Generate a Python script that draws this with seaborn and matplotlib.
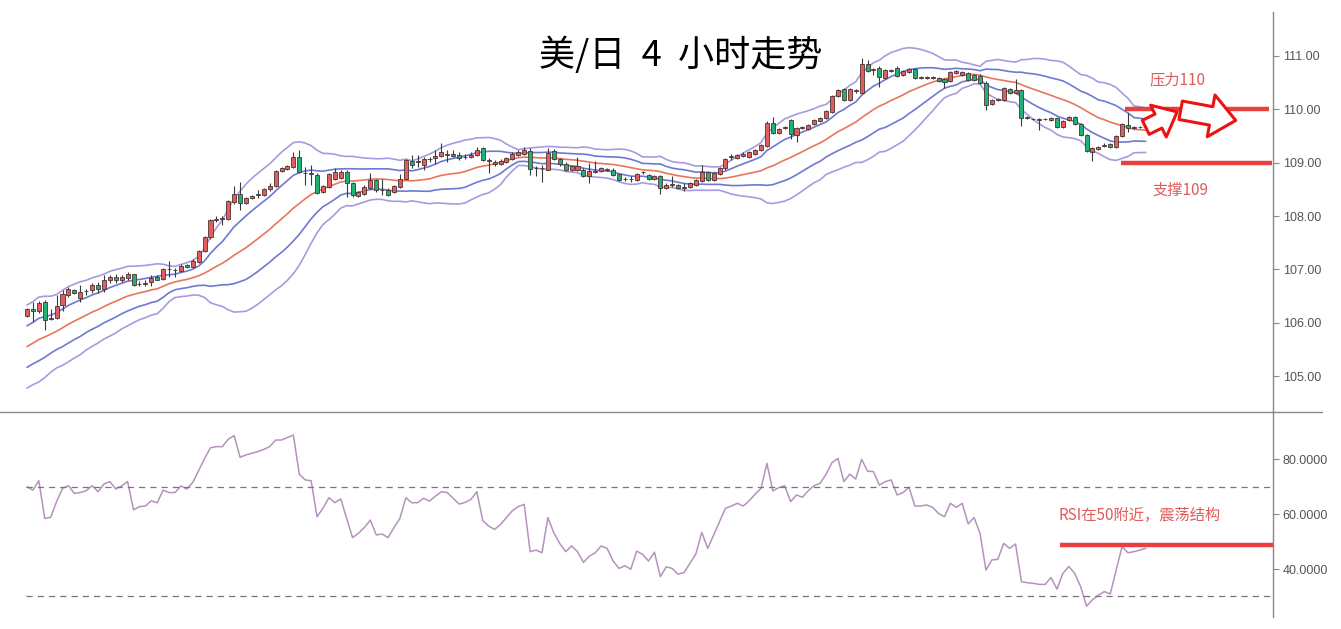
import numpy as np
import pandas as pd
import seaborn as sns
import matplotlib.pyplot as plt
from matplotlib.lines import Line2D

# 4小时K线 (美元/日元)
open_ = [106.13, 106.25, 106.22, 106.39, 106.07, 106.09, 106.33, 106.53, 106.62, 106.47,
         106.59, 106.61, 106.71, 106.64, 106.80, 106.86, 106.80, 106.84, 106.91, 106.72,
         106.73, 106.76, 106.86, 106.82, 107.00, 106.98, 106.97, 107.09, 107.05, 107.14,
         107.35, 107.60, 107.92, 107.94, 107.94, 108.27, 108.41, 108.25, 108.34, 108.40,
         108.40, 108.50, 108.57, 108.85, 108.88, 108.91, 109.10, 108.81, 108.80, 108.77,
         108.45, 108.55, 108.70, 108.72, 108.83, 108.62, 108.38, 108.42, 108.53, 108.67,
         108.49, 108.49, 108.45, 108.55, 108.69, 109.03, 109.01, 108.95, 109.06, 109.08,
         109.13, 109.16, 109.17, 109.14, 109.10, 109.11, 109.14, 109.27, 109.04, 109.02,
         108.97, 109.02, 109.07, 109.14, 109.17, 109.22, 108.89, 108.89, 108.87, 109.22,
         109.07, 108.97, 108.87, 108.87, 108.87, 108.75, 108.83, 108.84, 108.86, 108.87,
         108.78, 108.69, 108.69, 108.67, 108.82, 108.77, 108.69, 108.75, 108.52, 108.59,
         108.58, 108.53, 108.54, 108.59, 108.65, 108.82, 108.67, 108.79, 108.89, 109.11,
         109.08, 109.12, 109.11, 109.17, 109.23, 109.32, 109.75, 109.55, 109.65, 109.80,
         109.52, 109.65, 109.63, 109.72, 109.78, 109.83, 109.95, 110.25, 110.37, 110.18,
         110.34, 110.30, 110.84, 110.74, 110.78, 110.59, 110.72, 110.78, 110.64, 110.69,
         110.75, 110.59, 110.59, 110.59, 110.59, 110.56, 110.53, 110.67, 110.64, 110.67,
         110.64, 110.63, 110.50, 110.09, 110.18, 110.17, 110.37, 110.30, 110.36, 109.84,
         109.81, 109.80, 109.81, 109.80, 109.84, 109.67, 109.80, 109.85, 109.73, 109.52,
         109.20, 109.25, 109.32, 109.34, 109.30, 109.50, 109.71, 109.65, 109.66, 109.66]
high = [106.27, 106.39, 106.41, 106.42, 106.25, 106.52, 106.61, 106.67, 106.64, 106.71,
        106.64, 106.75, 106.77, 106.89, 106.89, 106.91, 106.89, 106.95, 106.92, 106.79,
        106.80, 106.89, 106.89, 107.03, 107.16, 107.02, 107.11, 107.11, 107.19, 107.36,
        107.62, 107.95, 108.00, 108.00, 108.30, 108.56, 108.64, 108.35, 108.39, 108.48,
        108.53, 108.61, 108.86, 108.92, 108.95, 109.20, 109.23, 108.92, 108.95, 108.80,
        108.58, 108.80, 108.90, 108.86, 108.86, 108.64, 108.47, 108.58, 108.80, 108.70,
        108.70, 108.52, 108.58, 108.78, 109.07, 109.15, 109.14, 109.11, 109.11, 109.23,
        109.36, 109.23, 109.23, 109.20, 109.17, 109.20, 109.30, 109.30, 109.08, 109.05,
        109.07, 109.11, 109.19, 109.23, 109.30, 109.27, 108.94, 108.95, 109.27, 109.25,
        109.09, 109.02, 108.96, 109.11, 108.89, 109.00, 109.03, 108.92, 108.89, 108.89,
        108.79, 108.73, 108.75, 108.81, 108.85, 108.79, 108.77, 108.77, 108.61, 108.74,
        108.60, 108.61, 108.63, 108.69, 108.95, 108.84, 108.82, 108.92, 109.09, 109.17,
        109.17, 109.20, 109.21, 109.26, 109.35, 109.77, 109.86, 109.65, 109.69, 109.82,
        109.66, 109.69, 109.73, 109.82, 109.86, 109.98, 110.27, 110.38, 110.39, 110.39,
        110.37, 110.96, 110.92, 110.77, 110.80, 110.75, 110.75, 110.80, 110.73, 110.78,
        110.77, 110.62, 110.62, 110.63, 110.61, 110.58, 110.72, 110.73, 110.72, 110.69,
        110.66, 110.65, 110.52, 110.20, 110.21, 110.41, 110.39, 110.56, 110.38, 109.87,
        109.84, 109.83, 109.84, 109.86, 109.86, 109.80, 109.87, 109.87, 109.75, 109.54,
        109.29, 109.32, 109.36, 109.36, 109.52, 109.75, 109.92, 109.68, 109.68, 109.68]
low = [106.11, 106.02, 106.19, 105.86, 106.05, 106.08, 106.23, 106.49, 106.54, 106.39,
       106.52, 106.55, 106.55, 106.58, 106.74, 106.75, 106.77, 106.81, 106.69, 106.69,
       106.69, 106.69, 106.80, 106.80, 106.86, 106.86, 106.95, 107.02, 107.03, 107.12,
       107.33, 107.57, 107.89, 107.83, 107.92, 108.23, 108.11, 108.22, 108.31, 108.33,
       108.37, 108.47, 108.55, 108.82, 108.86, 108.89, 108.80, 108.58, 108.58, 108.42,
       108.44, 108.53, 108.67, 108.70, 108.36, 108.36, 108.36, 108.40, 108.50, 108.45,
       108.39, 108.38, 108.44, 108.53, 108.67, 108.89, 108.92, 108.86, 109.02, 108.98,
       109.11, 109.02, 109.11, 109.05, 109.07, 109.09, 109.13, 109.03, 108.80, 108.94,
       108.95, 109.00, 109.05, 109.13, 109.15, 108.77, 108.74, 108.64, 108.86, 109.05,
       108.94, 108.84, 108.85, 108.85, 108.73, 108.62, 108.80, 108.82, 108.84, 108.75,
       108.65, 108.66, 108.64, 108.65, 108.79, 108.67, 108.67, 108.42, 108.50, 108.55,
       108.51, 108.47, 108.52, 108.57, 108.63, 108.65, 108.65, 108.77, 108.87, 109.05,
       109.06, 109.10, 109.09, 109.15, 109.21, 109.30, 109.53, 109.53, 109.62, 109.45,
       109.38, 109.62, 109.61, 109.70, 109.76, 109.81, 109.93, 110.23, 110.16, 110.16,
       110.31, 110.28, 110.69, 110.64, 110.42, 110.57, 110.70, 110.61, 110.62, 110.67,
       110.56, 110.57, 110.57, 110.56, 110.51, 110.39, 110.51, 110.65, 110.62, 110.52,
       110.52, 110.48, 109.98, 110.07, 110.16, 110.15, 110.28, 110.28, 109.69, 109.82,
       109.79, 109.61, 109.79, 109.78, 109.65, 109.65, 109.78, 109.71, 109.50, 109.20,
       109.03, 109.23, 109.29, 109.28, 109.28, 109.48, 109.58, 109.62, 109.64, 109.64]
close = [106.26, 106.23, 106.38, 106.06, 106.09, 106.31, 106.54, 106.63, 106.55, 106.57,
         106.60, 106.71, 106.63, 106.80, 106.86, 106.80, 106.86, 106.91, 106.71, 106.73,
         106.74, 106.84, 106.81, 107.01, 107.01, 106.99, 107.07, 107.05, 107.16, 107.34,
         107.60, 107.92, 107.94, 107.96, 108.28, 108.41, 108.25, 108.33, 108.38, 108.41,
         108.50, 108.57, 108.84, 108.89, 108.94, 109.10, 108.82, 108.80, 108.79, 108.44,
         108.57, 108.78, 108.83, 108.83, 108.61, 108.39, 108.45, 108.55, 108.67, 108.49,
         108.48, 108.40, 108.56, 108.69, 109.05, 108.95, 109.02, 109.07, 109.07, 109.13,
         109.20, 109.15, 109.13, 109.09, 109.11, 109.15, 109.23, 109.05, 109.03, 108.97,
         109.03, 109.08, 109.16, 109.20, 109.23, 108.88, 108.90, 108.90, 109.18, 109.07,
         108.97, 108.87, 108.94, 108.94, 108.75, 108.84, 108.84, 108.89, 108.87, 108.77,
         108.67, 108.70, 108.70, 108.79, 108.83, 108.69, 108.75, 108.53, 108.59, 108.60,
         108.53, 108.54, 108.61, 108.67, 108.82, 108.67, 108.80, 108.89, 109.07, 109.12,
         109.15, 109.16, 109.19, 109.23, 109.33, 109.75, 109.55, 109.63, 109.66, 109.53,
         109.64, 109.66, 109.71, 109.80, 109.84, 109.96, 110.25, 110.36, 110.18, 110.37,
         110.35, 110.84, 110.71, 110.75, 110.61, 110.73, 110.73, 110.63, 110.71, 110.75,
         110.58, 110.60, 110.60, 110.60, 110.53, 110.51, 110.70, 110.71, 110.70, 110.54,
         110.54, 110.50, 110.08, 110.18, 110.19, 110.39, 110.30, 110.36, 109.83, 109.85,
         109.82, 109.81, 109.82, 109.84, 109.67, 109.78, 109.85, 109.73, 109.52, 109.22,
         109.27, 109.30, 109.33, 109.30, 109.50, 109.73, 109.65, 109.66, 109.67, 109.67]

# 图左侧之前的19根收盘价 (只用于布林带起算)
warmup_close = [104.94, 105.03, 105.10, 105.06, 105.18, 105.29, 105.26, 105.38, 105.49, 105.45,
                105.58, 105.70, 105.66, 105.79, 105.88, 105.85, 105.98, 106.08, 106.14]

# RSI
rsi = [69.9, 68.7, 72.1, 58.4, 58.8, 64.5, 69.3, 70.3, 67.5, 67.8,
       68.5, 70.3, 68.1, 70.9, 71.8, 69.1, 70.2, 71.8, 61.5, 62.7,
       62.9, 64.8, 64.1, 68.7, 67.8, 67.8, 70.2, 69.1, 71.5, 75.8,
       80.2, 84.1, 84.5, 84.5, 87.2, 88.5, 80.6, 81.5, 82.1, 82.7,
       83.5, 84.5, 86.9, 86.9, 87.8, 88.7, 74.5, 72.4, 72.1, 59.0,
       62.1, 65.9, 64.1, 65.5, 58.4, 51.4, 53.0, 55.1, 57.8, 52.4,
       52.7, 51.4, 55.1, 58.4, 65.9, 64.1, 64.1, 65.7, 64.7, 66.5,
       68.1, 67.8, 65.7, 63.6, 64.2, 65.3, 68.1, 57.6, 55.6, 54.4,
       56.2, 58.7, 61.2, 62.7, 63.5, 46.3, 46.9, 45.9, 58.7, 53.2,
       49.3, 46.3, 48.4, 46.3, 42.4, 44.7, 45.9, 48.4, 47.5, 43.0,
       40.2, 41.2, 39.9, 46.5, 45.3, 42.9, 46.1, 37.2, 40.8, 40.2,
       38.1, 38.7, 42.1, 45.5, 53.3, 47.5, 52.4, 57.2, 62.1, 62.9,
       63.9, 62.9, 64.8, 67.2, 69.3, 78.4, 68.4, 69.6, 70.3, 64.5,
       66.9, 66.1, 68.5, 70.3, 71.2, 74.5, 78.7, 80.2, 71.8, 74.5,
       72.7, 79.9, 75.6, 75.4, 70.5, 71.8, 72.4, 66.9, 67.8, 69.7,
       62.9, 62.9, 63.3, 62.4, 60.2, 59.0, 63.9, 62.4, 63.9, 56.4,
       58.7, 53.0, 39.6, 43.3, 43.5, 49.3, 47.5, 49.1, 35.4, 35.0,
       34.8, 34.4, 34.4, 36.9, 32.7, 38.4, 40.9, 38.4, 33.6, 26.5,
       28.8, 30.5, 31.8, 30.9, 39.6, 48.1, 45.9, 46.3, 46.9, 47.5]

price_ticks = [105, 106, 107, 108, 109, 110, 111]
rsi_ticks = [40, 60, 80]

sns.set_style("white")
plt.rcParams['font.family'] = ['Noto Sans CJK SC', 'DejaVu Sans']

df = pd.DataFrame({"x": np.arange(1, len(close) + 1), "open": open_, "high": high,
                   "low": low, "close": close, "rsi": rsi})

# 布林带 (20, 1倍 / 2倍标准差)
full = pd.Series(warmup_close + close)
n_warm = len(warmup_close)
df["mid"] = full.rolling(20).mean().iloc[n_warm:].values
df["sd"] = full.rolling(20).std(ddof=0).iloc[n_warm:].values

fig = plt.figure(figsize=(13.41, 6.29), dpi=100)
ax = fig.add_axes([0, 0.3450, 0.9493, 0.6359])
ax2 = fig.add_axes([0, 0.0191, 0.9493, 0.3243])

for k, col in [(2, "#a89ae0"), (1, "#6d79d2"), (-1, "#6d79d2"), (-2, "#a89ae0")]:
    sns.lineplot(x=df.x, y=df.mid + k * df.sd, ax=ax, color=col, linewidth=1.2, zorder=2)
sns.lineplot(x=df.x, y=df.mid, ax=ax, color="#e9765c", linewidth=1.2, zorder=2)

# K线
ax.vlines(df.x, df.low, df.high, color="#3a3a3a", linewidth=0.8, zorder=3)
body = (df.close - df.open).abs().clip(lower=0.012)
colors = np.where(df.close > df.open, "#e35d5d",
                  np.where(df.close < df.open, "#1fb273", "#333333"))
ax.bar(df.x, body, bottom=np.minimum(df.open, df.close), width=0.68,
       color=colors, edgecolor="#4a3434", linewidth=0.6, zorder=4)

# 压力 / 支撑
ax.hlines(110.0, 186.5, 210.9, color="#e8403f", linewidth=3.2, zorder=5)
ax.hlines(109.0, 185.8, 211.3, color="#e8403f", linewidth=3.2, zorder=5)
ax.text(195.4, 110.55, "压力110", color="#e05a5a", fontsize=11, ha="center", va="center")
ax.text(195.8, 108.48, "支撑109", color="#e05a5a", fontsize=11, ha="center", va="center")
arrow = dict(arrowstyle="simple,head_length=1.0,head_width=1.7,tail_width=0.75",
             fc="white", ec="#ee1111", lw=2.2, shrinkA=0, shrinkB=0)
ax.annotate("", xy=(195.3, 109.95), xytext=(190.0, 109.66),
            arrowprops=dict(arrow, mutation_scale=15), zorder=6)
ax.annotate("", xy=(205.2, 109.79), xytext=(195.9, 109.98),
            arrowprops=dict(arrow, mutation_scale=18), zorder=6)

# RSI
sns.lineplot(x=df.x, y=df.rsi, ax=ax2, color="#b592bd", linewidth=1.1)
ax2.axhline(70, xmin=0.0204, color="#777777", linewidth=0.9, linestyle=(0, (5, 4)))
ax2.axhline(30, xmin=0.0204, color="#777777", linewidth=0.9, linestyle=(0, (5, 4)))
ax2.hlines(48.7, 175.5, 211.5, color="#e8403f", linewidth=3.2, zorder=5)
ax2.text(189, 59.3, "RSI在50附近，震荡结构", color="#e05a5a", fontsize=11, ha="center", va="center")

for a in (ax, ax2):
    a.set_xlim(-3.56, 211.5)
    a.set_xticks([])
    a.set_xlabel("")
    a.set_ylabel("")
    a.yaxis.tick_right()
    a.tick_params(axis="y", direction="out", length=4, color="#888888",
                  labelcolor="#555555", labelsize=9, pad=3)
    for s in ("top", "left", "bottom"):
        a.spines[s].set_visible(False)
    a.spines["right"].set_color("#888888")
    a.spines["right"].set_linewidth(1)
    a.set_facecolor("none")

ax.set_ylim(104.33, 111.82)
ax.set_yticks(price_ticks)
ax.set_yticklabels([f"{v:.2f}" for v in price_ticks], family="Liberation Sans")
ax2.set_ylim(22.55, 96.73)
ax2.set_yticks(rsi_ticks)
ax2.set_yticklabels([f"{v:.4f}" for v in rsi_ticks], family="Liberation Sans")

fig.add_artist(Line2D([0, 0.986], [0.3450, 0.3450], color="#888888", linewidth=1))
fig.text(0.508, 0.912, "美/日  4  小时走势", ha="center", va="center", fontsize=26,
         fontweight="light", color="black")

fig.savefig("out.png", dpi=100)
